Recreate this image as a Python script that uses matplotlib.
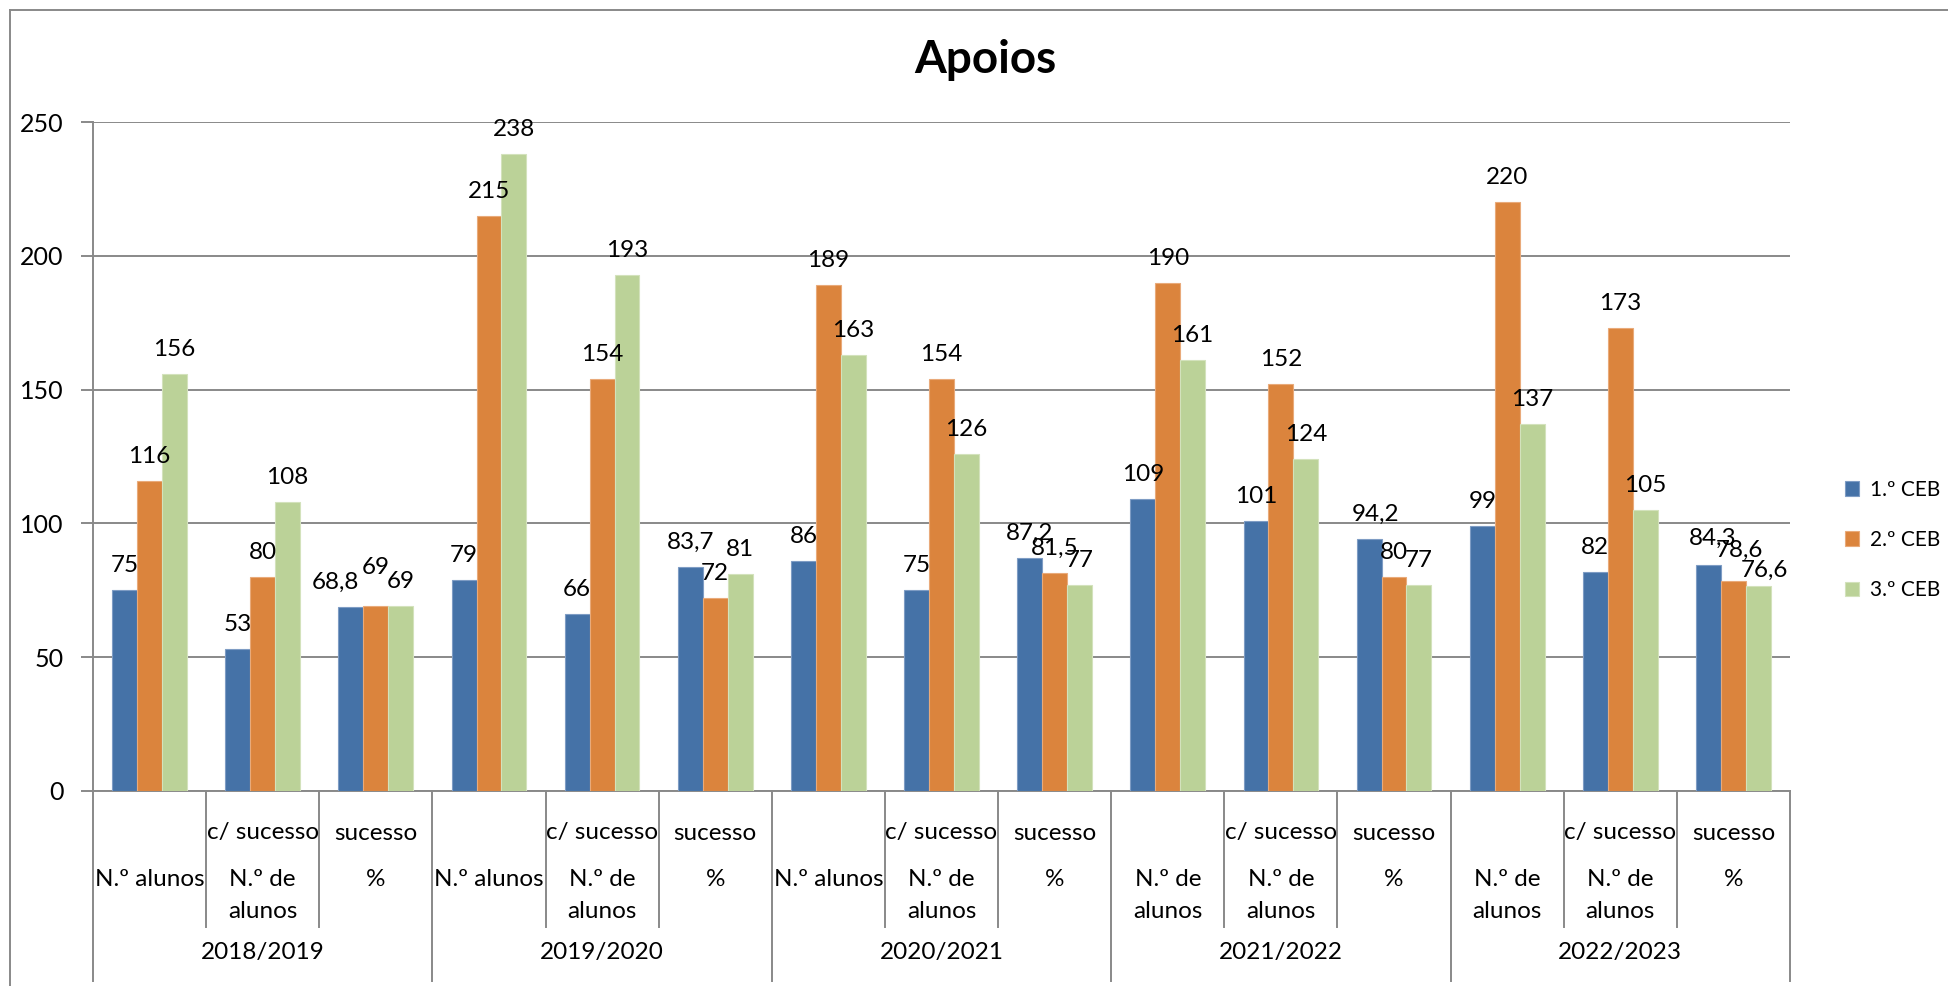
import matplotlib
matplotlib.use("Agg")
import matplotlib.pyplot as plt
from matplotlib.lines import Line2D
from matplotlib.transforms import blended_transform_factory
import numpy as np

# Data.
years = ["2018/2019", "2019/2020", "2020/2021", "2021/2022", "2022/2023"]
# Sub-category labels as Excel draws them: (top line, lines below).
sub_labels = [
    ("", ["N.º alunos"]), ("c/ sucesso", ["N.º de", "alunos"]), ("sucesso", ["%"]),
    ("", ["N.º alunos"]), ("c/ sucesso", ["N.º de", "alunos"]), ("sucesso", ["%"]),
    ("", ["N.º alunos"]), ("c/ sucesso", ["N.º de", "alunos"]), ("sucesso", ["%"]),
    ("", ["N.º de", "alunos"]), ("c/ sucesso", ["N.º de", "alunos"]), ("sucesso", ["%"]),
    ("", ["N.º de", "alunos"]), ("c/ sucesso", ["N.º de", "alunos"]), ("sucesso", ["%"]),
]
series_names = ["1.º CEB", "2.º CEB", "3.º CEB"]
ceb1 = [75, 53, 68.8, 79, 66, 83.7, 86, 75, 87.2, 109, 101, 94.2, 99, 82, 84.3]
ceb2 = [116, 80, 69, 215, 154, 72, 189, 154, 81.5, 190, 152, 80, 220, 173, 78.6]
ceb3 = [156, 108, 69, 238, 193, 81, 163, 126, 77, 161, 124, 77, 137, 105, 76.6]
colors = ["#4572A7", "#DB843D", "#BBD298"]
edge_colors = ["#7E9CC4", "#E9AA7A", "#D3E2BC"]
# Excel moved some overlapping labels: (series, category) -> (dx, dy) in pixels.
label_nudge = {(0, 2): (-16, 0), (1, 2): (0, 14), (0, 11): (6, 0),
               (0, 14): (4, 3), (1, 14): (6, 6), (2, 14): (6, -9)}

W, H = 1948, 986
plt.rcParams["font.family"] = ["Lato", "DejaVu Sans"]
fig = plt.figure(figsize=(W / 100, H / 100), dpi=100)

# Plot area in pixel coords.
left, right, top, bottom = 93, 1790, 122, 791
ax = fig.add_axes([left / W, 1 - bottom / H, (right - left) / W, (bottom - top) / H])

x = np.arange(len(ceb1))
width = 0.22
fs = 17.5
px = 72 / 100  # points per pixel
for i, (vals, col, ecol, name) in enumerate(zip([ceb1, ceb2, ceb3], colors, edge_colors, series_names)):
    xs = x + (i - 1) * width
    ax.bar(xs, vals, width, color=col, edgecolor=ecol, linewidth=0.8, label=name, zorder=3)
    for k, (xi, v) in enumerate(zip(xs, vals)):
        dx, dy = label_nudge.get((i, k), (0, 0))
        txt = ("%g" % v).replace(".", ",")
        ax.annotate(txt, (xi, v), xytext=(dx * px, (18 + dy) * px), textcoords="offset points",
                    ha="center", va="baseline", fontsize=fs, zorder=4)

ax.set_xlim(-0.5, len(ceb1) - 0.5)
ax.set_ylim(0, 250)
ax.set_yticks(range(0, 251, 50))
ax.yaxis.grid(True, color="#898989", linewidth=1.4, zorder=0)
ax.set_xticks([])
ax.tick_params(axis="y", length=9, width=1.4, color="#898989", labelsize=18, pad=12)
for s in ["top", "right"]:
    ax.spines[s].set_visible(False)
for s in ["left", "bottom"]:
    ax.spines[s].set_color("#898989")
    ax.spines[s].set_linewidth(1.4)

# Multi-level category axis.
tr = blended_transform_factory(ax.transData, fig.transFigure)
for k in range(len(ceb1) + 1):
    xb = k - 0.5
    y_end = 981 if k % 3 == 0 else 927
    fig.add_artist(Line2D([xb, xb], [1 - bottom / H, 1 - y_end / H], transform=tr,
                          color="#898989", linewidth=1.4))
for k, (top_line, lines) in enumerate(sub_labels):
    if top_line:
        fig.text(k, 1 - 833 / H, top_line, transform=tr, ha="center", va="center", fontsize=fs)
    for j, line in enumerate(lines):
        fig.text(k, 1 - (880 + 32 * j) / H, line, transform=tr, ha="center", va="center", fontsize=fs)
for j, yr in enumerate(years):
    fig.text(3 * j + 1, 1 - 953 / H, yr, transform=tr, ha="center", va="center", fontsize=fs)

# Title.
fig.text(985 / W, 1 - 60 / H, "Apoios", ha="center", va="center", fontsize=33, fontweight="bold")

# Legend.
fig.legend(loc="center left", bbox_to_anchor=(1826 / W, 1 - 540 / H), frameon=False,
           fontsize=15, handlelength=0.7, handleheight=0.7, handletextpad=0.5,
           labelspacing=1.45)

# Chart area border (left and top).
fig.add_artist(Line2D([10 / W, 10 / W], [0, 1 - 10 / H], color="#898989", linewidth=1.4))
fig.add_artist(Line2D([10 / W, 1], [1 - 10 / H, 1 - 10 / H], color="#898989", linewidth=1.4))

fig.savefig("out.png", dpi=100)
